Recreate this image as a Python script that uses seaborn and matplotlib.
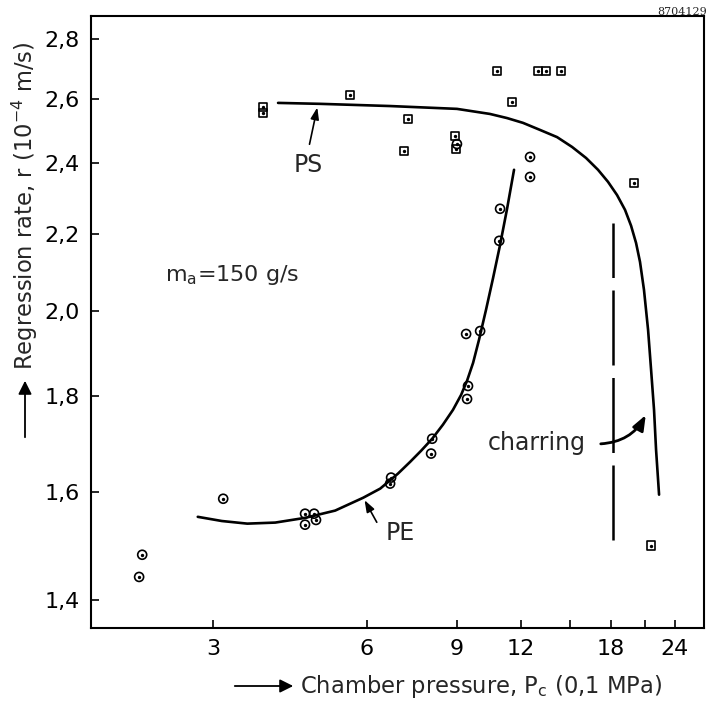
import matplotlib
matplotlib.use("Agg")
import matplotlib.pyplot as plt
import numpy as np
import pandas as pd
import seaborn as sns
from matplotlib.ticker import FixedLocator, FixedFormatter, NullFormatter

# ---------------- data ----------------
ps_p = [3.76, 3.76, 5.56, 7.22, 7.09, 8.93, 8.97, 10.78, 12.97, 13.45, 14.39, 11.54, 19.99, 21.57]
ps_r = [2.573, 2.554, 2.612, 2.535, 2.437, 2.483, 2.443, 2.690, 2.690, 2.690, 2.690, 2.589, 2.343, 1.497]

pe_p = [9.0, 12.51, 12.51, 10.93, 10.89, 9.38, 9.99, 9.46, 9.42, 8.05, 8.01,
        6.69, 6.66, 4.54, 4.73, 4.77, 4.54, 3.14, 2.18, 2.15]
pe_r = [2.458, 2.419, 2.360, 2.269, 2.181, 1.944, 1.951, 1.823, 1.794, 1.708, 1.677,
        1.628, 1.616, 1.557, 1.557, 1.545, 1.536, 1.586, 1.480, 1.440]

pe_fit_p = [2.80, 3.12, 3.50, 3.97, 4.54, 5.20, 5.90, 6.37, 6.90, 7.29, 7.66, 8.05, 8.45,
            8.84, 9.17, 9.42, 9.68, 9.94, 10.26, 10.59, 10.93, 11.28, 11.64]
pe_fit_r = [1.551, 1.543, 1.538, 1.540, 1.549, 1.563, 1.588, 1.606, 1.636, 1.660, 1.683, 1.708, 1.738,
            1.770, 1.803, 1.835, 1.876, 1.930, 2.003, 2.083, 2.170, 2.269, 2.381]

ps_fit_p = [4.02, 4.86, 6.66, 9.00, 10.44, 11.28, 12.12, 13.09, 14.13, 15.12, 16.10, 16.99, 17.77,
            18.51, 19.19, 19.72, 20.17, 20.53, 20.90, 21.29, 21.58, 21.87, 22.07, 22.27, 22.37]
ps_fit_r = [2.586, 2.583, 2.576, 2.567, 2.551, 2.538, 2.523, 2.501, 2.479, 2.449, 2.416, 2.381, 2.346,
            2.308, 2.266, 2.222, 2.175, 2.125, 2.053, 1.954, 1.860, 1.770, 1.685, 1.624, 1.594]

charring_p = [18.2, 18.2]
charring_r = [1.508, 2.230]

x_ticks = [3, 6, 9, 12, 18, 24]
x_tick_labels = ["3", "6", "9", "12", "18", "24"]
x_minor = [15, 21]
y_ticks = [1.4, 1.6, 1.8, 2.0, 2.2, 2.4, 2.6, 2.8]
y_tick_labels = ["1,4", "1,6", "1,8", "2,0", "2,2", "2,4", "2,6", "2,8"]

ps_df = pd.DataFrame({"P": ps_p, "r": ps_r})
pe_df = pd.DataFrame({"P": pe_p, "r": pe_r})
pe_fit = pd.DataFrame({"P": pe_fit_p, "r": pe_fit_r})
ps_fit = pd.DataFrame({"P": ps_fit_p, "r": ps_fit_r})

# ---------------- style ----------------
sns.set_style("ticks")
plt.rcParams["font.family"] = ["DejaVu Sans"]
plt.rcParams["mathtext.default"] = "regular"

W, H = 709, 706
fig = plt.figure(figsize=(W / 100, H / 100), dpi=100)
ax = fig.add_axes([91 / W, 1 - 628 / H, (704 - 91) / W, (628 - 16) / H])
ax.set_xscale("log")
ax.set_yscale("log")

# fitted curves
sns.lineplot(data=pe_fit, x="P", y="r", sort=False, color="black", lw=1.9, ax=ax)
sns.lineplot(data=ps_fit, x="P", y="r", sort=False, color="black", lw=1.9, ax=ax)

# data points
sns.scatterplot(data=pe_df, x="P", y="r", marker="o", s=42, facecolor="none",
                edgecolor="black", linewidth=1.2, ax=ax)
sns.scatterplot(data=ps_df, x="P", y="r", marker="s", s=34, facecolor="none",
                edgecolor="black", linewidth=1.2, ax=ax)
ax.scatter(pe_p, pe_r, s=2, color="black", zorder=3)
ax.scatter(ps_p, ps_r, s=2, color="black", zorder=3)

# charring limit
ax.plot(charring_p, charring_r, color="black", lw=1.8, dashes=(30, 5))

# axes
ax.set_xlim(1.731, 27.39)
ax.set_ylim(1.352, 2.879)
ax.xaxis.set_major_locator(FixedLocator(x_ticks))
ax.xaxis.set_major_formatter(FixedFormatter(x_tick_labels))
ax.xaxis.set_minor_locator(FixedLocator(x_minor))
ax.xaxis.set_minor_formatter(NullFormatter())
ax.yaxis.set_major_locator(FixedLocator(y_ticks))
ax.yaxis.set_major_formatter(FixedFormatter(y_tick_labels))
ax.yaxis.set_minor_locator(FixedLocator([]))
ax.tick_params(axis="both", which="both", direction="in", length=6, width=1.2,
               labelsize=16, colors="black", pad=8)
ax.set_xlabel("")
ax.set_ylabel("")
for s in ax.spines.values():
    s.set_visible(True)
    s.set_linewidth(1.5)
    s.set_color("black")

# annotations
arrow_kw = dict(arrowstyle="-|>,head_length=0.7,head_width=0.25", color="black", lw=1.2)
ax.annotate("", xy=(4.81, 2.58), xytext=(4.62, 2.449), arrowprops=arrow_kw)
ax.text(4.61, 2.395, "PS", fontsize=17, ha="center", va="center")
ax.annotate("", xy=(5.90, 1.588), xytext=(6.31, 1.536), arrowprops=arrow_kw)
ax.text(6.97, 1.521, "PE", fontsize=17, ha="center", va="center")
ax.text(12.9, 1.699, "charring", fontsize=17, ha="center", va="center")
ax.annotate("", xy=(21.19, 1.764), xytext=(16.99, 1.697),
            arrowprops=dict(arrowstyle="-|>,head_length=0.9,head_width=0.35", color="black",
                            lw=2.0, connectionstyle="arc3,rad=0.3"))
ax.text(2.42, 2.091, "m$_{a}$=150 g/s", fontsize=16, ha="left", va="center")

# axis labels with drawn arrows
fig.text(300 / W, 1 - 686 / H, "Chamber pressure, P$_{c}$ (0,1 MPa)", fontsize=16.3,
         ha="left", va="center")
fig.add_artist(matplotlib.patches.FancyArrowPatch(
    (232 / W, 1 - 686 / H), (296 / W, 1 - 686 / H), transform=fig.transFigure,
    arrowstyle="-|>,head_length=8,head_width=4", color="black", lw=1.3))
fig.text(25 / W, 1 - 206 / H, "Regression rate, r (10$^{-4}$ m/s)", fontsize=16.3,
         ha="center", va="center", rotation=90)
fig.add_artist(matplotlib.patches.FancyArrowPatch(
    (25 / W, 1 - 440 / H), (25 / W, 1 - 378 / H), transform=fig.transFigure,
    arrowstyle="-|>,head_length=8,head_width=4", color="black", lw=1.3))
fig.text(707 / W, 1 - 12 / H, "8704129", fontsize=8, ha="right", va="center",
         family="DejaVu Serif")

fig.savefig("out.png", dpi=100)
